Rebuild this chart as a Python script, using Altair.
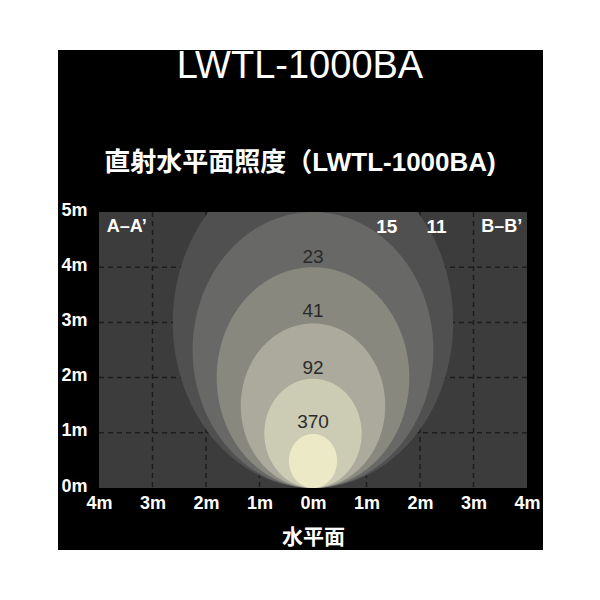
import numpy as np
import pandas as pd
import altair as alt

# ---- data ----
ellipse_tops = [6.0, 5.0, 4.0, 2.98, 1.98, 0.98]          # metres (top of each zone)
ellipse_half_widths = [2.62, 2.25, 1.80, 1.35, 0.91, 0.45]  # metres
ellipse_fills = ["#505050", "#686867", "#88887f", "#abaa9c", "#cccbb4", "#ece9c6"]

inner_labels = ["23", "41", "92", "370"]
inner_x = [0.0, 0.0, 0.0, 0.0]
inner_y = [4.18, 3.21, 2.17, 1.20]

outer_labels = ["15", "11"]
outer_x = [1.38, 2.31]
outer_y = [4.73, 4.73]

side_labels = ["A–A’", "B–B’"]
side_x = [-3.48, 3.53]
side_y = [4.73, 4.73]

x_ticks = [-4, -3, -2, -1, 0, 1, 2, 3, 4]
y_ticks = [0, 1, 2, 3, 4, 5]
x_grid = [-3, -2, -1, 0, 1, 2, 3]
y_grid = [1, 2, 3, 4]

TITLE = "LWTL-1000BA"
SUBTITLE = "直射水平面照度（LWTL-1000BA)"
XTITLE = "水平面"

W, H = 428, 276
FONT = "Liberation Sans, Noto Sans CJK JP"

xs = alt.Scale(domain=[-4, 4], nice=False, zero=False)
ys = alt.Scale(domain=[0, 5], nice=False, zero=False)

xa = alt.Axis(
    values=x_ticks, labelExpr="abs(datum.value) + 'm'", title=XTITLE,
    grid=False, domain=False, ticks=False, labelPadding=6, titlePadding=14,
    labelFontSize=18, titleFontSize=21, zindex=1, labelFlush=False, labelOverlap=False,
)
ya = alt.Axis(
    values=y_ticks, labelExpr="datum.value + 'm'", title=None,
    grid=False, domain=False, ticks=False, labelPadding=12,
    labelFontSize=18, labelOffset=-2, zindex=1, labelFlush=False, labelOverlap=False,
)


def X(f):
    return alt.X(f, scale=xs, axis=xa, title=XTITLE)


def Y(f):
    return alt.Y(f, scale=ys, axis=ya, title=None)


one = pd.DataFrame({"a": [0]})

black = alt.Chart(one).mark_rect(color="#000000").encode(
    x=alt.value(-41), x2=alt.value(444), y=alt.value(-162), y2=alt.value(338)
)

plotbg = alt.Chart(one).mark_rect(color="#3c3c3c").encode(
    x=alt.value(0), x2=alt.value(W), y=alt.value(0), y2=alt.value(H)
)

vgrid = alt.Chart(pd.DataFrame({"gx": x_grid})).mark_rule(
    color="#1c1c1c", strokeDash=[5, 4], strokeWidth=1.5
).encode(x=X("gx:Q"))

hgrid = alt.Chart(pd.DataFrame({"gy": y_grid})).mark_rule(
    color="#1c1c1c", strokeDash=[5, 4], strokeWidth=1.5
).encode(y=Y("gy:Q"))

layers = [black, plotbg, vgrid, hgrid]

t = np.linspace(-np.pi / 2, np.pi / 2, 241)
for top, rx, col in zip(ellipse_tops, ellipse_half_widths, ellipse_fills):
    r = top / 2.0
    df = pd.DataFrame({
        "x": rx * np.sin(t),
        "ylo": r - r * np.cos(t),
        "yhi": r + r * np.cos(t),
    })
    layers.append(
        alt.Chart(df).mark_area(color=col, clip=True, opacity=1).encode(
            x=X("x:Q"), y=Y("ylo:Q"), y2="yhi:Q",
        )
    )

inner = alt.Chart(pd.DataFrame({"t": inner_labels, "x": inner_x, "y": inner_y})).mark_text(
    font=FONT, fontSize=19, color="#2a2a2a"
).encode(x=X("x:Q"), y=Y("y:Q"), text="t:N")

outer = alt.Chart(pd.DataFrame({"t": outer_labels, "x": outer_x, "y": outer_y})).mark_text(
    font=FONT, fontSize=19, fontWeight="bold", color="#ffffff"
).encode(x=X("x:Q"), y=Y("y:Q"), text="t:N")

side = alt.Chart(pd.DataFrame({"t": side_labels, "x": side_x, "y": side_y})).mark_text(
    font=FONT, fontSize=18, fontWeight="bold", color="#ffffff"
).encode(x=X("x:Q"), y=Y("y:Q"), text="t:N")

title = alt.Chart(one).mark_text(
    font=FONT, fontSize=38, color="#ffffff", align="center", baseline="middle"
).encode(x=alt.value(201), y=alt.value(-145), text=alt.value(TITLE))

subtitle = alt.Chart(one).mark_text(
    font=FONT, fontSize=26, fontWeight="bold", color="#ffffff", align="center", baseline="middle"
).encode(x=alt.value(201), y=alt.value(-49), text=alt.value(SUBTITLE))

layers += [inner, outer, side, title, subtitle]

chart = alt.layer(*layers).properties(
    width=W, height=H,
    autosize=alt.AutoSizeParams(type="none"),
    padding={"left": 91, "top": 204, "right": 65, "bottom": 104},
).configure(background="#ffffff").configure_view(stroke=None).configure_axis(
    labelColor="#ffffff", titleColor="#ffffff", labelFont=FONT, titleFont=FONT,
    labelFontWeight="bold", titleFontWeight="bold",
)

chart.save("out.html", embed_options={"renderer": "svg", "actions": False})
